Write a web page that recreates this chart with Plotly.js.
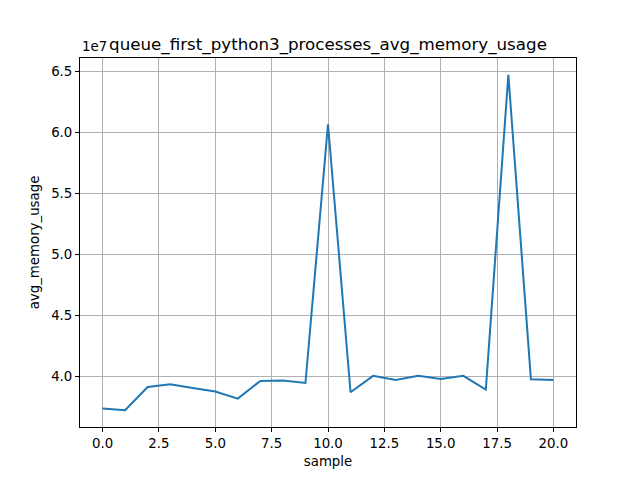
<!DOCTYPE html>
<html>
<head>
<meta charset="utf-8">
<script src="https://cdn.plot.ly/plotly-3.0.1.min.js"></script>
<style>html,body{margin:0;padding:0;background:#fff;}#chart{width:640px;height:480px;}</style>
</head>
<body>
<div id="chart"></div>
<script>
const samples = [0,1,2,3,4,5,6,7,8,9,10,11,12,13,14,15,16,17,18,19,20];
const avgMemoryUsage = [37400000,37260000,39160000,39390000,39080000,38790000,38210000,39660000,39690000,39490000,60650000,38730000,40070000,39740000,40070000,39820000,40070000,38950000,64700000,39800000,39740000];
const yTickVals = [40000000,45000000,50000000,55000000,60000000,65000000];
const yTickText = ["4.0","4.5","5.0","5.5","6.0","6.5"];
const xTickVals = [0,2.5,5,7.5,10,12.5,15,17.5,20];
const xTickText = ["0.0","2.5","5.0","7.5","10.0","12.5","15.0","17.5","20.0"];

const font = {family: "DejaVu Sans, sans-serif", size: 13.33, color: "#000"};
const trace = {
  x: samples, y: avgMemoryUsage, type: "scatter", mode: "lines",
  line: {color: "#1f77b4", width: 2}, hoverinfo: "skip"
};
const ymin = Math.min(...avgMemoryUsage), ymax = Math.max(...avgMemoryUsage);
const pad = (ymax - ymin) * 0.05;
const layout = {
  width: 640, height: 480,
  margin: {l: 80, r: 64, t: 58, b: 53, pad: 0},
  paper_bgcolor: "#fff", plot_bgcolor: "#fff",
  font: font,
  showlegend: false,
  title: {text: "queue_first_python3_processes_avg_memory_usage", font: {family: font.family, size: 16.7, color: "#000"},
          x: 0.5, xref: "paper", y: 1 - 44/480, yref: "container", yanchor: "middle"},
  xaxis: {
    range: [-1, 21], tickvals: xTickVals, ticktext: xTickText,
    showgrid: true, gridcolor: "#b0b0b0", gridwidth: 1,
    zeroline: false, showline: true, mirror: true, linecolor: "#000", linewidth: 1,
    ticks: "outside", ticklen: 4, tickcolor: "#000", tickwidth: 1,
    tickfont: font,
    title: {text: "sample", font: font, standoff: 6}
  },
  yaxis: {
    range: [ymin - pad, ymax + pad], tickvals: yTickVals, ticktext: yTickText,
    showgrid: true, gridcolor: "#b0b0b0", gridwidth: 1,
    zeroline: false, showline: true, mirror: true, linecolor: "#000", linewidth: 1,
    ticks: "outside", ticklen: 4, tickcolor: "#000", tickwidth: 1,
    tickfont: font,
    title: {text: "avg_memory_usage", font: font, standoff: 8}
  },
  annotations: [{
    text: "1e7", xref: "paper", yref: "paper", x: 0, y: 1,
    xanchor: "left", yanchor: "bottom", yshift: 2, showarrow: false, font: font
  }]
};
Plotly.newPlot("chart", [trace], layout, {staticPlot: true, displayModeBar: false});
</script>
</body>
</html>
